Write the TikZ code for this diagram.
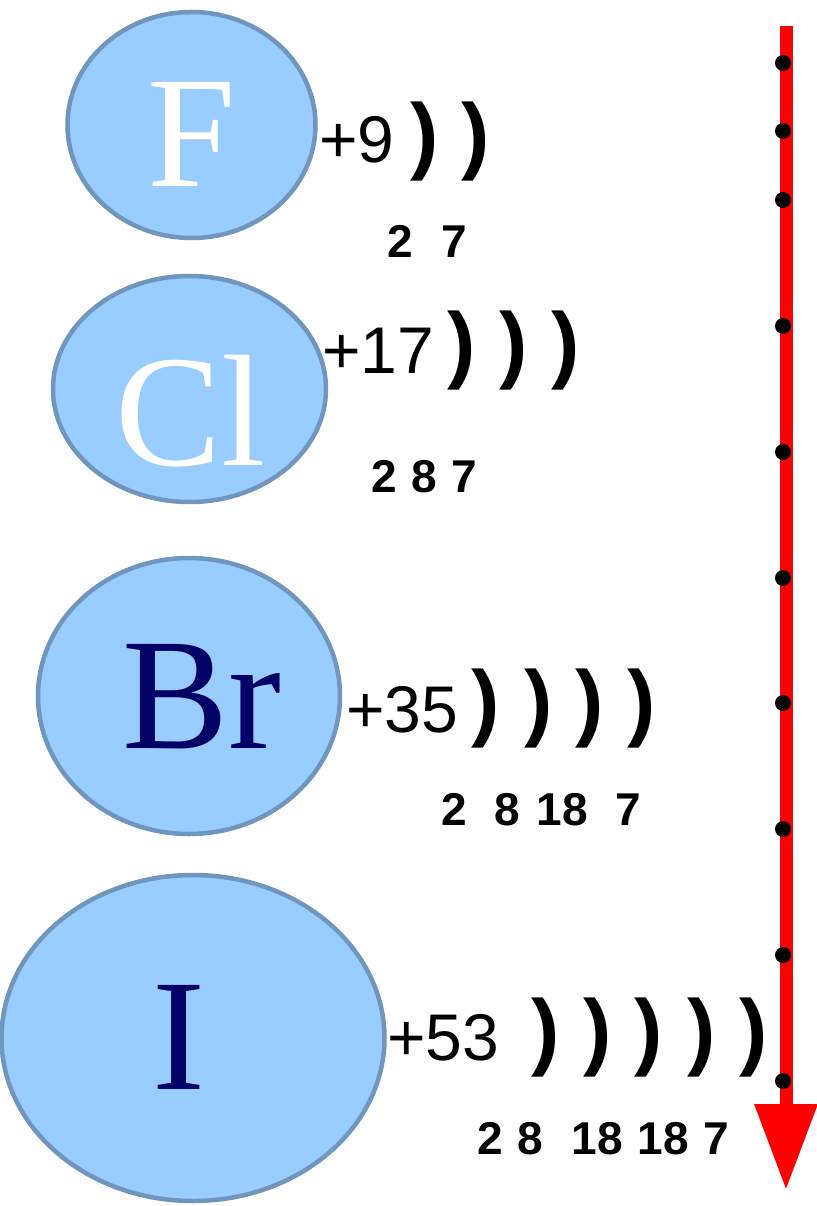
\documentclass[tikz,border=0pt]{standalone}
\usepackage{fontspec}
\setmainfont{Liberation Serif}
\setsansfont{Liberation Sans}
\usepackage{xcolor}
\usepackage{tikz}
\usetikzlibrary{positioning,shapes.geometric,arrows.meta}

\definecolor{atomfill}{HTML}{99CCFF}
\definecolor{atomline}{HTML}{7096BE}
\definecolor{darknavy}{HTML}{000066}

\begin{document}
\begin{tikzpicture}[
    x=1pt, y=-1pt,
    atom/.style={ellipse, draw=atomline, fill=atomfill, line width=4.5pt, inner sep=0pt},
    symbol/.style={anchor=base, inner sep=0pt, font=\fontsize{159}{159}\selectfont},
    charge/.style={anchor=base west, inner sep=0pt, font=\sffamily\fontsize{66}{66}\selectfont},
    shell/.style={anchor=base, inner sep=0pt, font=\sffamily\bfseries\fontsize{85}{85}\selectfont},
    count/.style={anchor=base, inner sep=0pt, font=\sffamily\bfseries\fontsize{46}{46}\selectfont},
    dot/.style={circle, fill=black, inner sep=0pt, minimum size=16pt}
]
\useasboundingbox (0,0) rectangle (816,1206);

% Atoms
\node[atom, minimum width=248pt, minimum height=226pt] (F) at (191.5,125) {};
\node[atom, minimum width=273pt, minimum height=226pt] (Cl) at (189.5,389) {};
\node[atom, minimum width=302pt, minimum height=276pt] (Br) at (189,696) {};
\node[atom, minimum width=383pt, minimum height=326pt] (I) at (193,1038) {};

\node[symbol, text=white] (Fsym) at (192,187) {F};
\node[symbol, text=white] (Clsym) at (191,465) {Cl};
\node[symbol, text=darknavy] (Brsym) at (201.5,748) {Br};
\node[symbol, text=darknavy] (Isym) at (179,1089) {I};

% Nuclear charges
\node[charge] (Fq) at (319,163) {+9};
\node[charge] (Clq) at (322,373) {+17};
\node[charge] (Brq) at (346,732) {+35};
\node[charge] (Iq) at (387,1060) {+53};

% Shells
\node[shell] (F1) at (425,164) {)};
\node[shell] (F2) at (476,164) {)};

\node[shell] (Cl1) at (462,372) {)};
\node[shell] (Cl2) at (514,372) {)};
\node[shell] (Cl3) at (566,372) {)};

\node[shell] (Br1) at (486,730) {)};
\node[shell] (Br2) at (539,730) {)};
\node[shell] (Br3) at (590,730) {)};
\node[shell] (Br4) at (642,730) {)};

\node[shell] (I1) at (546,1059) {)};
\node[shell] (I2) at (598,1059) {)};
\node[shell] (I3) at (649,1059) {)};
\node[shell] (I4) at (702,1059) {)};
\node[shell] (I5) at (754,1059) {)};

% Electrons per shell
\node[count] (Fn1) at (400.5,257) {2};
\node[count] (Fn2) at (454,257) {7};

\node[count] (Cln1) at (384.5,492) {2};
\node[count] (Cln2) at (424.5,492) {8};
\node[count] (Cln3) at (464.5,492) {7};

\node[count] (Brn1) at (454.5,825) {2};
\node[count] (Brn2) at (507,825) {8};
\node[count] (Brn3) at (562,825) {18};
\node[count] (Brn4) at (628.5,825) {7};

\node[count] (In1) at (490,1154) {2};
\node[count] (In2) at (530,1154) {8};
\node[count] (In3) at (597.5,1154) {18};
\node[count] (In4) at (663.5,1154) {18};
\node[count] (In5) at (716.5,1154) {7};

% Trend arrow
\coordinate (top) at (786,26);
\coordinate (tip) at (786,1190);
\draw[red, line width=13pt, -{Triangle[width=60pt,length=86pt]}] (top) -- (tip);

\node[dot] (d1) at (783,63) {};
\node[dot] (d2) at (783,131) {};
\node[dot] (d3) at (783,200) {};
\node[dot] (d4) at (783,326) {};
\node[dot] (d5) at (783,452) {};
\node[dot] (d6) at (783,578) {};
\node[dot] (d7) at (783,703) {};
\node[dot] (d8) at (783,829) {};
\node[dot] (d9) at (783,955) {};
\node[dot] (d10) at (783,1081) {};

\end{tikzpicture}
\end{document}
